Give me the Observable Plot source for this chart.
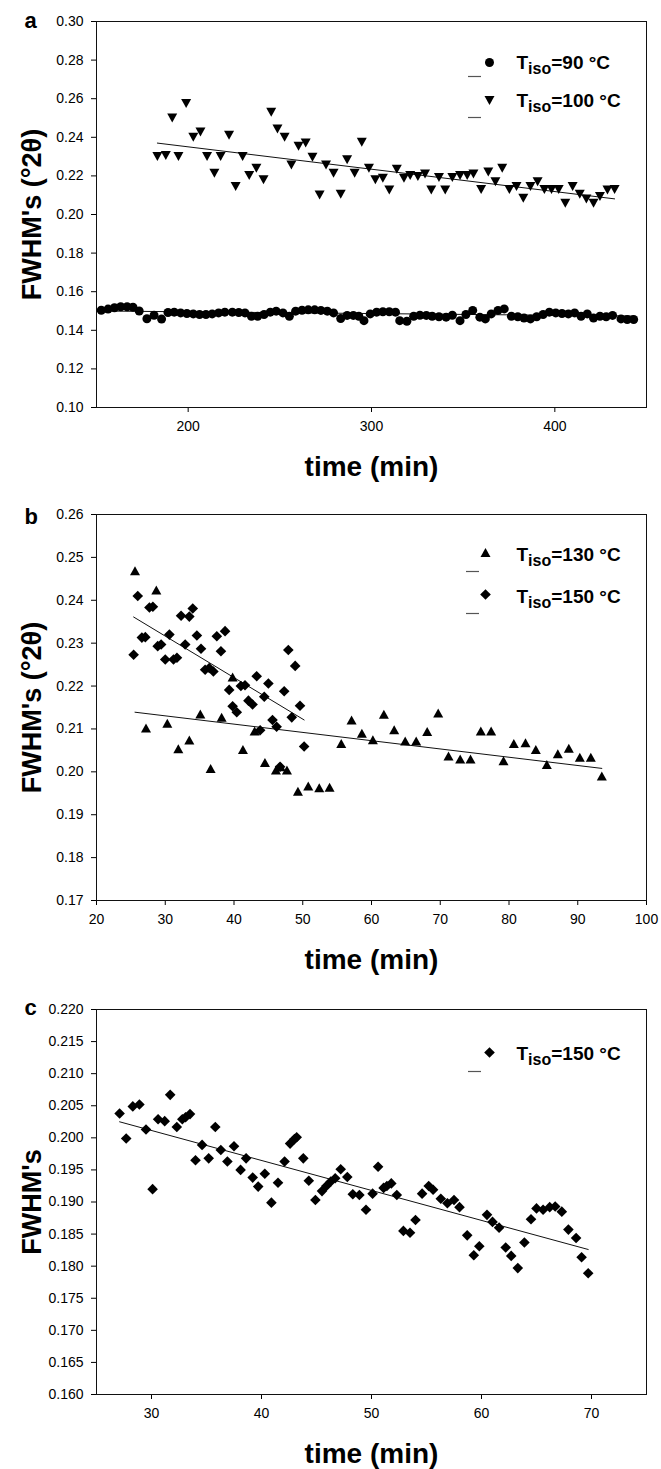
<!DOCTYPE html>
<html><head><meta charset="utf-8">
<script src="https://cdn.jsdelivr.net/npm/d3@7"></script>
<script src="https://cdn.jsdelivr.net/npm/@observablehq/plot@0.6"></script>
<style>
body{margin:0;background:#fff;}
#chart svg{display:block;}
</style></head><body><div id="chart"></div>
<script>
// ---------- Panel a data ----------
const aCircles = [[152.6,0.1504],[156.3,0.1510],[159.8,0.1517],[163.2,0.1522],[166.7,0.1522],[169.9,0.1520],[173.3,0.1500],[177.5,0.1460],[181.4,0.1478],[185.5,0.1458],[189.0,0.1492],[192.4,0.1494],[195.9,0.1490],[199.3,0.1487],[202.8,0.1485],[206.2,0.1482],[209.7,0.1482],[213.1,0.1485],[216.6,0.1490],[220.0,0.1494],[224.1,0.1494],[227.6,0.1492],[231.0,0.1490],[234.5,0.1473],[237.9,0.1473],[241.4,0.1482],[244.8,0.1494],[248.0,0.1499],[251.7,0.1490],[255.2,0.1473],[258.6,0.1499],[262.1,0.1504],[265.5,0.1506],[269.0,0.1506],[272.4,0.1503],[275.9,0.1499],[279.3,0.1490],[283.2,0.1461],[286.7,0.1477],[290.1,0.1477],[293.1,0.1473],[295.9,0.1450],[299.3,0.1485],[302.8,0.1494],[306.2,0.1496],[309.7,0.1496],[313.1,0.1494],[315.4,0.1450],[319.3,0.1447],[323.0,0.1473],[326.4,0.1478],[329.9,0.1477],[333.1,0.1473],[336.8,0.1470],[340.7,0.1468],[344.1,0.1478],[348.3,0.1450],[351.5,0.1482],[355.2,0.1503],[359.1,0.1468],[362.1,0.1459],[365.3,0.1485],[369.0,0.1503],[372.4,0.1511],[376.3,0.1473],[379.8,0.1470],[383.2,0.1464],[386.7,0.1459],[390.1,0.1470],[393.6,0.1482],[397.0,0.1494],[400.5,0.1490],[403.9,0.1487],[407.4,0.1485],[410.8,0.1490],[414.3,0.1473],[417.7,0.1485],[421.1,0.1464],[424.6,0.1473],[428.0,0.1470],[431.5,0.1477],[436.1,0.1459],[439.5,0.1456],[443.0,0.1456]];
const aTriangles = [[183.2,0.2301],[187.8,0.2306],[191.3,0.2500],[194.7,0.2300],[198.9,0.2575],[202.8,0.2400],[206.7,0.2427],[210.3,0.2300],[214.3,0.2214],[217.7,0.2300],[222.3,0.2410],[225.9,0.2145],[229.7,0.2300],[233.3,0.2202],[237.2,0.2240],[241.1,0.2180],[245.3,0.2530],[248.7,0.2443],[252.6,0.2400],[256.3,0.2257],[260.2,0.2353],[264.1,0.2370],[267.8,0.2296],[271.7,0.2101],[275.2,0.2257],[279.3,0.2214],[283.2,0.2105],[286.7,0.2284],[290.8,0.2214],[294.7,0.2375],[298.6,0.2240],[302.1,0.2180],[306.2,0.2188],[309.7,0.2127],[313.8,0.2235],[317.7,0.2188],[321.1,0.2202],[325.3,0.2197],[329.2,0.2210],[332.6,0.2127],[336.8,0.2192],[340.2,0.2127],[344.1,0.2192],[348.3,0.2202],[352.2,0.2202],[355.6,0.2210],[359.8,0.2130],[363.7,0.2220],[367.6,0.2170],[371.3,0.2240],[375.2,0.2130],[379.1,0.2145],[382.8,0.2084],[386.7,0.2145],[390.6,0.2170],[394.3,0.2130],[398.2,0.2130],[402.1,0.2130],[405.7,0.2058],[409.7,0.2145],[413.6,0.2105],[417.2,0.2080],[421.1,0.2058],[424.6,0.2093],[428.7,0.2127],[432.6,0.2130]];
const aFitCircles = [[152.6,0.1500],[443.0,0.1474]];
const aFitTriangles = [[183.2,0.2370],[432.6,0.2081]];
const aXTicks = [200,300,400];
const aYTicks = [0.10,0.12,0.14,0.16,0.18,0.20,0.22,0.24,0.26,0.28,0.30];
const aLegend = ["Tiso=90 °C","Tiso=100 °C"];

// ---------- Panel b data ----------
const bTriangles = [[25.6,0.2469],[27.2,0.2102],[28.7,0.2424],[30.3,0.2113],[31.9,0.2054],[33.5,0.2074],[35.1,0.2135],[36.6,0.2008],[38.2,0.2127],[39.8,0.2221],[41.3,0.2052],[43.0,0.2095],[44.5,0.2022],[46.1,0.2004],[46.8,0.2012],[47.7,0.2004],[49.3,0.1955],[50.8,0.1967],[52.4,0.1963],[53.9,0.1964],[55.6,0.2066],[57.1,0.2121],[58.6,0.2090],[60.2,0.2075],[61.8,0.2134],[63.3,0.2098],[64.9,0.2072],[66.5,0.2072],[68.1,0.2094],[69.7,0.2137],[71.2,0.2037],[72.9,0.2030],[74.4,0.2030],[75.9,0.2095],[77.4,0.2095],[79.2,0.2026],[80.7,0.2066],[82.4,0.2068],[83.9,0.2052],[85.5,0.2017],[87.1,0.2042],[88.7,0.2055],[90.3,0.2034],[91.9,0.2034],[93.5,0.1990]];
const bDiamonds = [[25.4,0.2273],[26.0,0.2410],[26.6,0.2313],[27.1,0.2314],[27.7,0.2383],[28.2,0.2385],[28.9,0.2293],[29.4,0.2297],[30.0,0.2262],[30.6,0.2320],[31.2,0.2262],[31.7,0.2266],[32.3,0.2364],[32.9,0.2297],[33.5,0.2362],[34.0,0.2381],[34.6,0.2318],[35.2,0.2287],[35.8,0.2238],[36.4,0.2242],[37.0,0.2234],[37.5,0.2316],[38.1,0.2281],[38.7,0.2328],[39.3,0.2191],[39.8,0.2153],[40.4,0.2139],[41.0,0.2200],[41.6,0.2202],[42.1,0.2166],[42.7,0.2157],[43.3,0.2223],[43.8,0.2097],[44.4,0.2175],[45.0,0.2206],[45.6,0.2121],[46.2,0.2105],[46.7,0.2012],[47.3,0.2188],[47.9,0.2284],[48.4,0.2127],[48.9,0.2247],[49.6,0.2154],[50.2,0.2059]];
const bFitTriangles = [[25.6,0.2139],[93.5,0.2008]];
const bFitDiamonds = [[25.4,0.2361],[50.2,0.2121]];
const bXTicks = [20,30,40,50,60,70,80,90,100];
const bYTicks = [0.17,0.18,0.19,0.20,0.21,0.22,0.23,0.24,0.25,0.26];
const bLegend = ["Tiso=130 °C","Tiso=150 °C"];

// ---------- Panel c data ----------
const cDiamonds = [[27.1,0.2038],[27.7,0.1999],[28.3,0.2049],[28.9,0.2052],[29.5,0.2013],[30.1,0.1920],[30.6,0.2029],[31.2,0.2026],[31.7,0.2067],[32.3,0.2017],[32.8,0.2029],[33.1,0.2032],[33.5,0.2037],[34.0,0.1965],[34.6,0.1989],[35.2,0.1968],[35.8,0.2017],[36.3,0.1981],[36.9,0.1963],[37.5,0.1987],[38.1,0.1950],[38.6,0.1968],[39.2,0.1938],[39.7,0.1924],[40.3,0.1944],[40.9,0.1899],[41.5,0.1930],[42.1,0.1963],[42.6,0.1991],[43.0,0.1998],[43.2,0.2001],[43.8,0.1968],[44.3,0.1933],[44.9,0.1903],[45.5,0.1917],[45.9,0.1925],[46.3,0.1932],[46.7,0.1937],[47.2,0.1951],[47.8,0.1939],[48.3,0.1912],[48.9,0.1911],[49.5,0.1888],[50.1,0.1913],[50.6,0.1955],[51.1,0.1922],[51.4,0.1925],[51.8,0.1929],[52.3,0.1911],[52.9,0.1855],[53.5,0.1852],[54.0,0.1872],[54.6,0.1913],[55.2,0.1925],[55.6,0.1919],[56.3,0.1905],[56.9,0.1898],[57.5,0.1903],[58.0,0.1892],[58.7,0.1848],[59.3,0.1817],[59.8,0.1831],[60.5,0.1880],[61.0,0.1869],[61.6,0.1860],[62.2,0.1829],[62.7,0.1816],[63.3,0.1797],[63.9,0.1837],[64.5,0.1873],[65.0,0.1890],[65.6,0.1888],[66.2,0.1892],[66.7,0.1893],[67.3,0.1885],[67.9,0.1857],[68.6,0.1844],[69.1,0.1814],[69.7,0.1789]];
const cFitDiamonds = [[27.1,0.2025],[69.7,0.1826]];
const cXTicks = [30,40,50,60,70];
const cYTicks = [0.160,0.165,0.170,0.175,0.180,0.185,0.190,0.195,0.200,0.205,0.210,0.215,0.220];
const cLegend = ["Tiso=150 °C"];

const xTitle = "time (min)";
const FONT = "'Liberation Sans', Arial, Helvetica, sans-serif";

// ---------- symbols ----------
const rad = s => Math.sqrt(s / Math.PI);
const triDown = {draw(c, s){ const r = rad(s); c.moveTo(0, 0.9*r); c.lineTo(r, -0.9*r); c.lineTo(-r, -0.9*r); c.closePath(); }};
const triUp = {draw(c, s){ const r = rad(s); c.moveTo(0, -0.9*r); c.lineTo(r, 0.9*r); c.lineTo(-r, 0.9*r); c.closePath(); }};
const diam = {draw(c, s){ const r = rad(s); c.moveTo(0, -r); c.lineTo(r, 0); c.lineTo(0, r); c.lineTo(-r, 0); c.closePath(); }};
const dash = {draw(c, s){ const r = rad(s); c.moveTo(-r, 0); c.lineTo(r, 0); }};
const circ = {draw(c, s){ const r = rad(s); c.moveTo(r, 0); c.arc(0, 0, r, 0, 2*Math.PI); }};

function panel(o) {
  const marks = [];
  for (const f of o.fits) marks.push(Plot.line(f, {x: d => d[0], y: d => d[1], stroke: "#111", strokeWidth: 1}));
  for (const s of o.series) marks.push(Plot.dot(s.data, {x: d => d[0], y: d => d[1], symbol: s.symbol, r: s.r, fill: "#000", stroke: "none"}));
  marks.push(Plot.frame({stroke: "#111", strokeWidth: 1}));
  o.legend.forEach((label, i) => {
    const L = o.legendPos[i];
    marks.push(Plot.dot([label], {frameAnchor: "top-left", dx: L.sx, dy: L.sy, symbol: o.series[i].symbol, r: o.series[i].r, fill: "#000", stroke: "none"}));
    marks.push(Plot.dot([label], {frameAnchor: "top-left", dx: L.lx, dy: L.ly, symbol: dash, r: 6.5, fill: "none", stroke: "#555", strokeWidth: 1.2}));
    marks.push(Plot.text([label], {frameAnchor: "top-left", dx: L.tx, dy: L.ty, text: d => d, textAnchor: "start", lineAnchor: "bottom", fontSize: 19, fontWeight: "bold", fill: "#000"}));
  });
  marks.push(Plot.text([xTitle], {frameAnchor: "bottom", dy: 68, text: d => d, textAnchor: "middle", lineAnchor: "bottom", fontSize: 28, fontWeight: "bold", fill: "#000"}));
  marks.push(Plot.text([o.yTitle], {frameAnchor: "left", dx: -56, rotate: -90, text: d => d, textAnchor: "middle", lineAnchor: "bottom", fontSize: 27, fontWeight: "bold", fill: "#000"}));
  marks.push(Plot.text([o.letter], {frameAnchor: "top-left", dx: -72, dy: o.letterDy, text: d => d, textAnchor: "start", lineAnchor: "bottom", fontSize: 22, fontWeight: "bold", fill: "#000"}));

  const svg = Plot.plot({
    width: 661, height: o.height, marginTop: o.marginTop, marginBottom: o.marginBottom, marginLeft: 96, marginRight: 15,
    style: {fontFamily: FONT, fontSize: "14px", color: "#000", background: "#fff", overflow: "visible"},
    x: {domain: o.xDomain, ticks: o.xTicks, tickSize: 5, tickPadding: 9, tickFormat: d => String(d), label: null},
    y: {domain: o.yDomain, ticks: o.yTicks, tickSize: 5, tickPadding: 8, tickFormat: d3.format(o.yFormat), label: null},
    marks
  });
  d3.select(svg).selectAll("text").filter(function(){ return this.textContent.startsWith("Tiso"); }).each(function(){
    const rest = this.textContent.slice(4);
    const t = d3.select(this);
    t.text(null);
    t.append("tspan").text("T");
    t.append("tspan").attr("font-size", 16).attr("dy", 5).text("iso");
    t.append("tspan").attr("dy", -5).text(rest);
  });
  return svg;
}

const chart = document.getElementById("chart");
chart.append(panel({
  letter: "a", letterDy: 6, height: 480, marginTop: 21, marginBottom: 73,
  xDomain: [150, 450], yDomain: [0.10, 0.30], xTicks: aXTicks, yTicks: aYTicks, yFormat: ".2f",
  yTitle: "FWHM's (°2θ)",
  series: [{data: aCircles, symbol: circ, r: 4.5}, {data: aTriangles, symbol: triDown, r: 5}],
  fits: [aFitCircles, aFitTriangles],
  legend: aLegend,
  legendPos: [{sx: 393, sy: 41, lx: 378, ly: 55, tx: 420, ty: 47}, {sx: 393, sy: 79, lx: 378, ly: 96, tx: 420, ty: 85}]
}));
chart.append(panel({
  letter: "b", letterDy: 9, height: 480, marginTop: 34, marginBottom: 60,
  xDomain: [20, 100], yDomain: [0.17, 0.26], xTicks: bXTicks, yTicks: bYTicks, yFormat: ".2f",
  yTitle: "FWHM's (°2θ)",
  series: [{data: bTriangles, symbol: triUp, r: 5}, {data: bDiamonds, symbol: diam, r: 5.3}],
  fits: [bFitTriangles, bFitDiamonds],
  legend: bLegend,
  legendPos: [{sx: 389, sy: 38, lx: 376, ly: 57, tx: 420, ty: 46}, {sx: 389, sy: 80, lx: 376, ly: 99, tx: 420, ty: 88}]
}));
chart.append(panel({
  letter: "c", letterDy: 5, height: 509, marginTop: 49, marginBottom: 75,
  xDomain: [25, 75], yDomain: [0.160, 0.220], xTicks: cXTicks, yTicks: cYTicks, yFormat: ".3f",
  yTitle: "FWHM's",
  series: [{data: cDiamonds, symbol: diam, r: 5.3}],
  fits: [cFitDiamonds],
  legend: cLegend,
  legendPos: [{sx: 393, sy: 43, lx: 378, ly: 62, tx: 420, ty: 50}]
}));
</script></body></html>
